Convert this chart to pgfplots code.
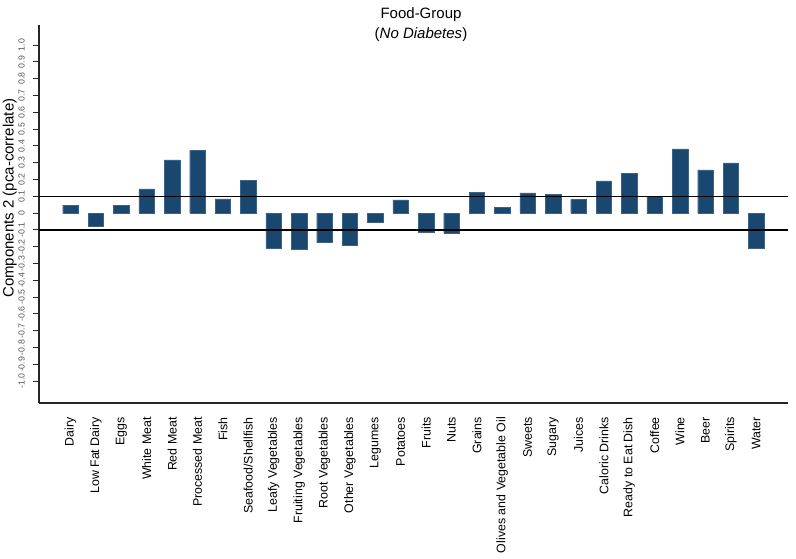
\documentclass[border=0pt]{standalone}
\usepackage{pgfplots}
\pgfplotsset{compat=1.18}
\usepackage{fontspec}
\setmainfont{Liberation Sans}
\definecolor{barblue}{RGB}{26,71,111}
\definecolor{ticklab}{RGB}{85,85,85}
\begin{document}
\begin{tikzpicture}
\useasboundingbox (-39pt,-155pt) rectangle (757pt,403pt);
\begin{axis}[
  scale only axis,
  width=749pt, height=378pt,
  xmin=-1.24, xmax=28.25,
  ymin=-1.13, ymax=1.12,
  axis lines*=left,
  axis line style={-, line width=1.2pt, black!85},
  xtick={0,...,27},
  xticklabels={Dairy,Low Fat Dairy,Eggs,White Meat,Red Meat,Processed Meat,Fish,Seafood/Shellfish,Leafy Vegetables,Fruiting Vegetables,Root Vegetables,Other Vegetables,Legumes,Potatoes,Fruits,Nuts,Grains,Olives and Vegetable Oil,Sweets,Sugary,Juices,Caloric Drinks,Ready to Eat Dish,Coffee,Wine,Beer,Spirits,Water},
  x tick style={draw=none},
  xticklabel style={yshift=-8pt, rotate=90, anchor=east, font=\fontsize{12.4}{14}\selectfont, inner sep=0pt},
  ytick={-1,-0.9,-0.8,-0.7,-0.6,-0.5,-0.4,-0.3,-0.2,-0.1,0,0.1,0.2,0.3,0.4,0.5,0.6,0.7,0.8,0.9,1},
  yticklabels={-1.0,-0.9,-0.8,-0.7,-0.6,-0.5,-0.4,-0.3,-0.2,-0.1,0,0.1,0.2,0.3,0.4,0.5,0.6,0.7,0.8,0.9,1.0},
  ytick pos=left,
  tick align=outside,
  major tick length=6pt,
  y tick style={line width=1pt, black!85},
  yticklabel style={xshift=-8pt, rotate=90, anchor=south, font=\fontsize{8.8}{10}\selectfont, text=ticklab, inner sep=0pt},
  ylabel={Components 2 (pca-correlate)},
  ylabel style={at={(axis description cs:-0.039,0.542)}, anchor=center, font=\fontsize{15}{16}\selectfont},
  clip=false,
]
\addplot[ybar, bar width=15.5pt, fill=barblue, draw=barblue!85!white, line width=0.3pt] coordinates {
(0,0.048) (1,-0.080) (2,0.048) (3,0.145) (4,0.317) (5,0.373) (6,0.085) (7,0.196)
(8,-0.207) (9,-0.213) (10,-0.175) (11,-0.193) (12,-0.056) (13,0.079) (14,-0.113)
(15,-0.119) (16,0.125) (17,0.033) (18,0.121) (19,0.113) (20,0.081) (21,0.192)
(22,0.238) (23,0.101) (24,0.383) (25,0.258) (26,0.299) (27,-0.208)
};
\addplot[black, line width=1.2pt, mark=none] coordinates {(-1.24,0.1) (28.25,0.1)};
\addplot[black, line width=1.2pt, mark=none] coordinates {(-1.24,-0.1) (28.25,-0.1)};
\end{axis}
\node[align=center, font=\fontsize{15}{20}\selectfont] at (382pt,378pt) {Food-Group\\(\textit{No Diabetes})};
\end{tikzpicture}
\end{document}
